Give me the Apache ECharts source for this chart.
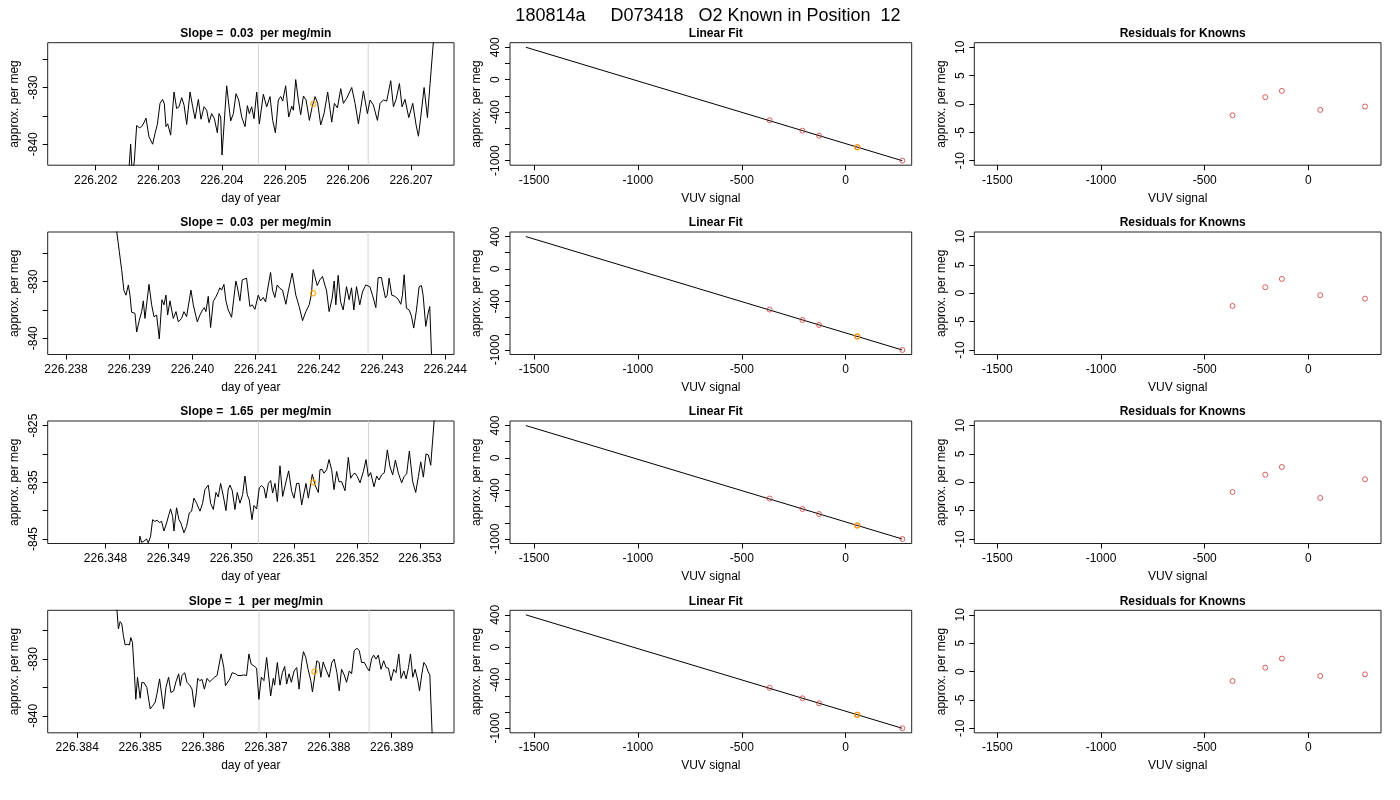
<!DOCTYPE html>
<html lang="en">
<head>
<meta charset="UTF-8">
<title>180814a D073418 O2 Known in Position 12</title>
<script src="https://cdn.jsdelivr.net/npm/echarts@6.0.0/dist/echarts.min.js"></script>
<style>
  html, body { margin: 0; padding: 0; background: #fff; }
  #main { width: 1400px; height: 800px; }
</style>
</head>
<body>
<div id="main"></div>
<script>
// ---- data ----
var mainTitle = '180814a     D073418   O2 Known in Position  12';
var slopes = ['0.03', '0.03', '1.65', '1'];

// time of each trace point in thousandths of a day after the base day
var timeBase = [226.2, 226.2, 226.3, 226.3];

var time1 = [2.518, 2.555, 2.581, 2.613, 2.650, 2.692, 2.729, 2.766, 2.798, 2.846, 2.904, 2.941, 2.978, 3.020, 3.062, 3.089, 3.115, 3.142, 3.189, 3.242,
  3.284, 3.321, 3.364, 3.401, 3.443, 3.496, 3.538, 3.575, 3.628, 3.670, 3.718, 3.760, 3.797, 3.839, 3.882, 3.929, 3.955, 3.982, 4.003, 4.024,
  4.077, 4.140, 4.183, 4.225, 4.267, 4.315, 4.368, 4.405, 4.436, 4.473, 4.510, 4.553, 4.595, 4.658, 4.711, 4.764, 4.806, 4.849, 4.896, 4.933,
  4.965, 5.012, 5.060, 5.108, 5.134, 5.171, 5.213, 5.250, 5.293, 5.335, 5.388, 5.430, 5.478, 5.520, 5.567, 5.620, 5.678, 5.742, 5.784, 5.832,
  5.885, 5.927, 5.980, 6.059, 6.112, 6.165, 6.244, 6.307, 6.350, 6.402, 6.466, 6.508, 6.561, 6.614, 6.677, 6.720, 6.762, 6.815, 6.857, 6.904,
  6.963, 7.026, 7.079, 7.116, 7.153, 7.206, 7.259, 7.301, 7.380];
var value1 = [-846, -840.0, -845.5, -843.0, -836.7, -837.1, -836.9, -836.2, -835.4, -838.7, -840.0, -838.1, -836.5, -832.8, -832.1, -832.9, -836.9, -836.4, -838.4, -830.8,
  -833.7, -833.4, -831.8, -833.1, -836.5, -830.8, -833.4, -835.5, -832.1, -835.6, -833.4, -834.0, -836.2, -834.6, -835.5, -838.0, -834.6, -835.2, -841.9, -841.9,
  -829.7, -835.9, -834.6, -831.1, -832.2, -835.2, -836.9, -833.2, -834.6, -833.4, -835.5, -830.8, -836.4, -831.2, -833.4, -831.6, -835.8, -838.0, -832.2, -831.6,
  -832.4, -829.7, -835.2, -833.3, -834.0, -828.6, -832.2, -834.8, -831.5, -832.2, -835.8, -833.5, -831.6, -832.8, -836.6, -834.6, -830.8, -836.1, -832.8, -833.6,
  -830.2, -832.8, -831.9, -830.0, -832.8, -836.4, -830.6, -834.6, -832.2, -833.1, -835.8, -832.8, -832.2, -832.4, -828.8, -833.4, -832.1, -829.3, -833.4, -832.1,
  -835.3, -832.8, -836.6, -838.6, -835.2, -830.0, -835.3, -829.3, -818.1];

var time2 = [38.775, 38.843, 38.880, 38.917, 38.949, 38.986, 39.012, 39.038, 39.065, 39.091, 39.118, 39.160, 39.197, 39.223, 39.249, 39.265, 39.313, 39.355, 39.392, 39.434,
  39.476, 39.518, 39.550, 39.581, 39.608, 39.645, 39.671, 39.697, 39.740, 39.777, 39.829, 39.866, 39.908, 39.935, 39.977, 40.014, 40.040, 40.077, 40.119, 40.161,
  40.188, 40.214, 40.251, 40.288, 40.330, 40.367, 40.409, 40.435, 40.462, 40.499, 40.530, 40.567, 40.620, 40.688, 40.710, 40.752, 40.789, 40.820, 40.857, 40.910,
  40.947, 40.989, 41.042, 41.079, 41.121, 41.158, 41.184, 41.237, 41.268, 41.305, 41.342, 41.384, 41.426, 41.479, 41.521, 41.579, 41.637, 41.690, 41.743, 41.795,
  41.848, 41.885, 41.911, 41.938, 41.975, 42.017, 42.059, 42.096, 42.122, 42.164, 42.212, 42.244, 42.270, 42.307, 42.344, 42.386, 42.439, 42.481, 42.518, 42.555,
  42.597, 42.649, 42.692, 42.744, 42.808, 42.850, 42.903, 42.939, 42.992, 43.018, 43.055, 43.082, 43.113, 43.155, 43.203, 43.256, 43.298, 43.324, 43.351, 43.387,
  43.430, 43.467, 43.503, 43.546, 43.588, 43.625, 43.651, 43.693, 43.730, 43.756, 43.799];
var value2 = [-818.8, -824.7, -827.9, -831.6, -832.4, -830.6, -832.4, -835.4, -835.3, -835.6, -838.9, -836.8, -835.3, -833.4, -836.5, -836.8, -830.5, -834.1, -836.2, -835.9,
  -840.1, -833.2, -834.1, -832.4, -835.9, -833.4, -833.5, -836.5, -835.3, -837.1, -836.5, -835.3, -836.2, -835.9, -831.5, -834.1, -834.0, -837.1, -835.9, -835.0,
  -834.6, -835.3, -832.6, -838.1, -833.5, -832.8, -831.8, -831.1, -831.5, -830.5, -833.4, -835.0, -836.3, -829.9, -830.9, -833.4, -829.7, -829.9, -829.4, -834.4,
  -834.1, -834.9, -832.4, -833.4, -832.8, -833.6, -831.8, -828.4, -831.5, -832.8, -830.6, -831.2, -831.5, -834.0, -831.5, -828.5, -832.4, -834.4, -836.9, -835.3,
  -834.1, -832.1, -827.9, -829.1, -830.7, -829.7, -829.1, -830.6, -831.5, -835.3, -832.9, -829.9, -834.1, -828.9, -833.5, -835.0, -830.9, -833.2, -831.1, -835.0,
  -830.9, -834.1, -831.8, -830.6, -830.9, -832.4, -834.6, -829.3, -829.3, -830.9, -832.9, -832.4, -829.4, -832.4, -832.6, -833.1, -834.0, -832.4, -828.8, -834.7,
  -835.0, -836.1, -838.2, -835.0, -830.9, -830.7, -832.4, -837.9, -835.6, -834.4, -847.6];

var time3 = [48.520, 48.546, 48.573, 48.610, 48.652, 48.679, 48.695, 48.716, 48.748, 48.785, 48.822, 48.854, 48.891, 48.928, 48.970, 49.007, 49.034, 49.066, 49.087, 49.129,
  49.167, 49.198, 49.246, 49.288, 49.331, 49.368, 49.405, 49.448, 49.501, 49.543, 49.580, 49.633, 49.670, 49.713, 49.755, 49.792, 49.829, 49.872, 49.914, 49.951,
  49.978, 50.015, 50.057, 50.094, 50.137, 50.179, 50.216, 50.253, 50.285, 50.328, 50.360, 50.402, 50.444, 50.481, 50.519, 50.550, 50.588, 50.625, 50.656, 50.694,
  50.731, 50.773, 50.816, 50.869, 50.911, 50.959, 50.996, 51.038, 51.075, 51.118, 51.155, 51.187, 51.224, 51.250, 51.287, 51.330, 51.383, 51.409, 51.441, 51.473,
  51.515, 51.553, 51.595, 51.632, 51.674, 51.712, 51.754, 51.807, 51.860, 51.897, 51.929, 51.966, 52.003, 52.046, 52.099, 52.141, 52.178, 52.215, 52.268, 52.311,
  52.348, 52.390, 52.433, 52.480, 52.523, 52.565, 52.608, 52.655, 52.708, 52.746, 52.788, 52.830, 52.883, 52.931, 52.974, 53.011, 53.053, 53.095, 53.133, 53.170,
  53.201, 53.233];
var value3 = [-848.0, -844.5, -845.6, -845.4, -845.0, -845.7, -846.0, -844.5, -841.6, -841.9, -841.7, -842.1, -841.9, -843.6, -842.2, -840.7, -839.7, -841.0, -843.6, -839.5,
  -841.6, -842.2, -843.9, -842.8, -840.4, -840.1, -837.8, -838.7, -840.1, -838.7, -836.3, -835.5, -838.7, -839.8, -836.8, -837.6, -835.2, -837.4, -840.0, -836.2,
  -835.5, -836.5, -839.8, -836.8, -838.7, -837.2, -833.9, -837.2, -838.1, -841.6, -839.1, -839.7, -836.0, -835.6, -836.0, -837.8, -835.2, -834.7, -836.9, -835.2,
  -838.4, -832.1, -837.5, -834.9, -833.0, -836.6, -837.8, -835.2, -835.2, -839.0, -836.9, -835.2, -837.8, -838.1, -833.6, -835.5, -836.8, -832.8, -832.7, -833.4,
  -832.8, -831.0, -832.8, -836.3, -833.1, -834.9, -834.9, -836.5, -830.6, -834.3, -833.7, -833.4, -834.0, -835.1, -833.1, -831.0, -834.0, -833.3, -835.8, -833.9,
  -834.6, -833.7, -833.3, -829.3, -832.3, -833.7, -831.1, -833.4, -835.1, -834.0, -833.5, -829.5, -834.9, -836.8, -834.0, -831.4, -834.1, -830.0, -830.2, -832.0,
  -831.7, -822.9];

var time4 = [84.617, 84.654, 84.681, 84.708, 84.734, 84.761, 84.798, 84.830, 84.851, 84.878, 84.910, 84.931, 84.958, 84.979, 85.000, 85.027, 85.064, 85.106, 85.160, 85.202,
  85.239, 85.266, 85.309, 85.335, 85.372, 85.410, 85.452, 85.489, 85.532, 85.569, 85.612, 85.638, 85.665, 85.708, 85.745, 85.787, 85.825, 85.862, 85.894, 85.915,
  85.947, 85.984, 86.021, 86.064, 86.106, 86.144, 86.181, 86.223, 86.250, 86.287, 86.330, 86.356, 86.383, 86.426, 86.463, 86.516, 86.553, 86.606, 86.649, 86.692,
  86.729, 86.766, 86.809, 86.851, 86.888, 86.926, 86.968, 87.011, 87.048, 87.075, 87.117, 87.138, 87.181, 87.223, 87.261, 87.298, 87.330, 87.367, 87.404, 87.447,
  87.489, 87.527, 87.569, 87.596, 87.633, 87.670, 87.713, 87.739, 87.777, 87.809, 87.846, 87.872, 87.910, 87.952, 88.005, 88.048, 88.085, 88.128, 88.165, 88.202,
  88.245, 88.282, 88.325, 88.362, 88.404, 88.447, 88.484, 88.521, 88.564, 88.606, 88.644, 88.681, 88.713, 88.750, 88.787, 88.830, 88.872, 88.910, 88.947, 88.989,
  89.032, 89.069, 89.112, 89.149, 89.192, 89.229, 89.266, 89.298, 89.335, 89.372, 89.415, 89.442, 89.479, 89.511, 89.548, 89.574, 89.606, 89.654];
var value4 = [-819.4, -824.7, -823.4, -823.8, -825.9, -827.5, -827.4, -827.5, -826.2, -827.1, -832.9, -837.1, -833.2, -832.9, -836.9, -834.1, -834.2, -835.0, -838.8, -838.2,
  -837.6, -836.2, -833.5, -833.8, -838.8, -835.0, -833.2, -835.9, -835.6, -834.0, -832.6, -834.7, -832.9, -832.4, -834.1, -834.6, -835.3, -838.5, -835.9, -833.4,
  -833.8, -833.6, -835.3, -833.4, -834.0, -833.6, -833.2, -832.9, -832.6, -829.1, -831.5, -834.7, -835.0, -833.5, -832.4, -832.6, -832.9, -832.9, -832.8, -832.9,
  -829.1, -830.9, -831.2, -831.6, -837.1, -833.2, -833.8, -829.7, -833.5, -836.5, -833.4, -834.6, -830.6, -834.6, -832.4, -831.3, -834.4, -832.6, -834.1, -832.1,
  -831.5, -835.3, -830.6, -828.7, -829.7, -831.8, -833.8, -835.8, -832.9, -830.3, -830.6, -833.2, -830.5, -831.8, -833.2, -830.6, -830.0, -832.4, -835.6, -831.8,
  -832.8, -834.1, -832.1, -832.6, -828.5, -828.1, -828.5, -830.6, -830.6, -831.5, -832.1, -829.9, -829.3, -830.0, -829.3, -831.8, -830.3, -831.5, -831.6, -833.8,
  -831.8, -832.4, -829.1, -833.4, -832.1, -833.5, -831.5, -829.1, -833.2, -831.8, -833.8, -835.6, -832.6, -830.6, -831.2, -832.1, -832.8, -846.5];

var times = [time1, time2, time3, time4];
var values = [value1, value2, value3, value4];

// the sample point (orange) and the two grey window markers of each trace
var sampleTime = [226.20545, 226.24191, 226.35130, 226.38777];
var sampleValue = [-832.9, -832.06, -835.0, -832.2];
var windowMarks = [[226.20458, 226.20632], [226.24104, 226.24278], [226.35043, 226.35218], [226.38689, 226.38864]];

// axis limits and ticks of the traces
var timeRange = [[226.20124, 226.20768], [226.23771, 226.24414], [226.34708, 226.35354], [226.38353, 226.38999]];
var timeTicks = [
  [226.202, 226.203, 226.204, 226.205, 226.206, 226.207],
  [226.238, 226.239, 226.240, 226.241, 226.242, 226.243, 226.244],
  [226.348, 226.349, 226.350, 226.351, 226.352, 226.353],
  [226.384, 226.385, 226.386, 226.387, 226.388, 226.389]
];
var traceRange = [[-843.7, -822.1], [-842.86, -821.26], [-845.8, -824.2], [-843.0, -821.4]];
var traceTicks = [[-840, -835, -830, -825], [-840, -835, -830, -825], [-845, -840, -835, -830, -825], [-840, -835, -830, -825]];
var traceLabels = [[-840, -830], [-840, -830], [-845, -835, -825], [-840, -830]];

// linear fit of the knowns
var fitX = [-1540, 272];
var fitY = [400, -1000];
var knownX = [-366, -208, -128, 57, 273];
var knownY = [-501, -630, -692, -833, -1000];
var sampleX = 55;
var sampleY = -835;
var fitRangeX = [-1616, 318];
var fitRangeY = [-1056, 456];
var fitTicksX = [-1500, -1000, -500, 0];
var fitTicksY = [-1000, -800, -600, -400, -200, 0, 200, 400];
var fitLabelsY = [-1000, -400, 0, 400];

// residuals of the knowns, one row per run
var residuals = [
  [-2.0, 1.2, 2.3, -1.05, -0.45],
  [-2.24, 1.06, 2.52, -0.35, -0.95],
  [-1.72, 1.34, 2.69, -2.77, 0.52],
  [-1.67, 0.69, 2.28, -0.78, -0.49]
];
var residRangeX = [-1611, 350];
var residRangeY = [-10.8, 10.8];
var residTicks = [-10, -5, 0, 5, 10];

// ---- layout ----
var colLeft = [47.7, 510, 974.3];
var colWidth = [406.3, 401.7, 406.7];
var rowTop = [42.7, 232, 421, 610.3];
var boxHeight = 122.5;
var font = "'Liberation Sans', Arial, Helvetica, sans-serif";

var myChart = echarts.init(document.getElementById('main'));

var grids = [], xAxes = [], yAxes = [], series = [], titles = [];

titles.push({
  text: mainTitle,
  left: 703, top: 2, textAlign: 'center',
  textStyle: { fontSize: 18, fontWeight: 'normal', color: '#000', fontFamily: font }
});

function makeAxis(g, range, ticks, labels, name, gap, fmt, isY) {
  return {
    type: 'value', gridIndex: g, min: range[0], max: range[1],
    name: name, nameLocation: 'middle', nameGap: gap,
    nameTextStyle: { color: '#000', fontSize: 12, fontFamily: font },
    axisLine: { show: false, onZero: false },
    axisTick: { show: true, length: 5, customValues: ticks, lineStyle: { color: '#000', width: 1 } },
    axisLabel: {
      customValues: labels, color: '#000', fontSize: 12, fontFamily: font,
      margin: isY ? 8 : 9, rotate: isY ? 90 : 0,
      formatter: fmt
    },
    splitLine: { show: false }
  };
}

function plain(v) { return String(v); }
function day(v) { return v.toFixed(3); }

var boxStyle = { show: true, borderColor: '#222', borderWidth: 1, backgroundColor: 'transparent', containLabel: false };
var ringRed = { color: 'transparent', borderColor: '#d03a3a', borderWidth: 1 };
var ringOrange = { color: 'transparent', borderColor: '#ffa500', borderWidth: 1.3 };

for (var r = 0; r < 4; r++) {
  for (var c = 0; c < 3; c++) {
    var g = r * 3 + c;
    grids.push(Object.assign({ left: colLeft[c], top: rowTop[r], width: colWidth[c], height: boxHeight }, boxStyle));
    var titleText = c === 0 ? 'Slope =  ' + slopes[r] + '  per meg/min' : (c === 1 ? 'Linear Fit' : 'Residuals for Knowns');
    titles.push({
      text: titleText, left: colLeft[c] + colWidth[c] / 2, top: rowTop[r] - 20, textAlign: 'center',
      textStyle: { fontSize: 12, fontWeight: 'bold', color: '#000', fontFamily: font }
    });

    if (c === 0) {
      xAxes.push(makeAxis(g, timeRange[r], timeTicks[r], timeTicks[r], 'day of year', 27, day, false));
      yAxes.push(makeAxis(g, traceRange[r], traceTicks[r], traceLabels[r], 'approx. per meg', 27, plain, true));

      (function (row) {
        windowMarks[row].forEach(function (x) {
          series.push({
            type: 'line', xAxisIndex: g, yAxisIndex: g, z: 1, silent: true,
            showSymbol: false, symbol: 'none',
            lineStyle: { color: '#d3d3d3', width: 1 },
            data: [[x, traceRange[row][0]], [x, traceRange[row][1]]]
          });
        });
        series.push({
          type: 'line', xAxisIndex: g, yAxisIndex: g, z: 3, silent: true,
          showSymbol: false, symbol: 'none',
          lineStyle: { color: '#000', width: 1 },
          data: times[row].map(function (t, k) { return [timeBase[row] + t / 1000, values[row][k]]; })
        });
        series.push({
          type: 'scatter', xAxisIndex: g, yAxisIndex: g, z: 4, silent: true,
          symbol: 'circle', symbolSize: 5, itemStyle: ringOrange,
          data: [[sampleTime[row], sampleValue[row]]]
        });
      })(r);
    } else if (c === 1) {
      xAxes.push(makeAxis(g, fitRangeX, fitTicksX, fitTicksX, 'VUV signal', 27, plain, false));
      yAxes.push(makeAxis(g, fitRangeY, fitTicksY, fitLabelsY, 'approx. per meg', 27, plain, true));
      series.push({
        type: 'line', xAxisIndex: g, yAxisIndex: g, z: 2, silent: true, showSymbol: false, symbol: 'none',
        lineStyle: { color: '#000', width: 1 },
        data: fitX.map(function (x, k) { return [x, fitY[k]]; })
      });
      series.push({
        type: 'scatter', xAxisIndex: g, yAxisIndex: g, z: 3, silent: true,
        symbol: 'circle', symbolSize: 5, itemStyle: ringRed,
        data: knownX.map(function (x, k) { return [x, knownY[k]]; })
      });
      series.push({
        type: 'scatter', xAxisIndex: g, yAxisIndex: g, z: 4, silent: true,
        symbol: 'circle', symbolSize: 5, itemStyle: ringOrange,
        data: [[sampleX, sampleY]]
      });
    } else {
      xAxes.push(makeAxis(g, residRangeX, fitTicksX, fitTicksX, 'VUV signal', 27, plain, false));
      yAxes.push(makeAxis(g, residRangeY, residTicks, residTicks, 'approx. per meg', 27, plain, true));
      (function (row) {
        series.push({
          type: 'scatter', xAxisIndex: g, yAxisIndex: g, z: 3, silent: true,
          symbol: 'circle', symbolSize: 5, itemStyle: ringRed,
          data: knownX.map(function (x, k) { return [x, residuals[row][k]]; })
        });
      })(r);
    }
  }
}

var option = {
  animation: false,
  backgroundColor: '#fff',
  textStyle: { fontFamily: font },
  title: titles,
  grid: grids,
  xAxis: xAxes,
  yAxis: yAxes,
  series: series
};
myChart.setOption(option);
</script>
</body>
</html>
